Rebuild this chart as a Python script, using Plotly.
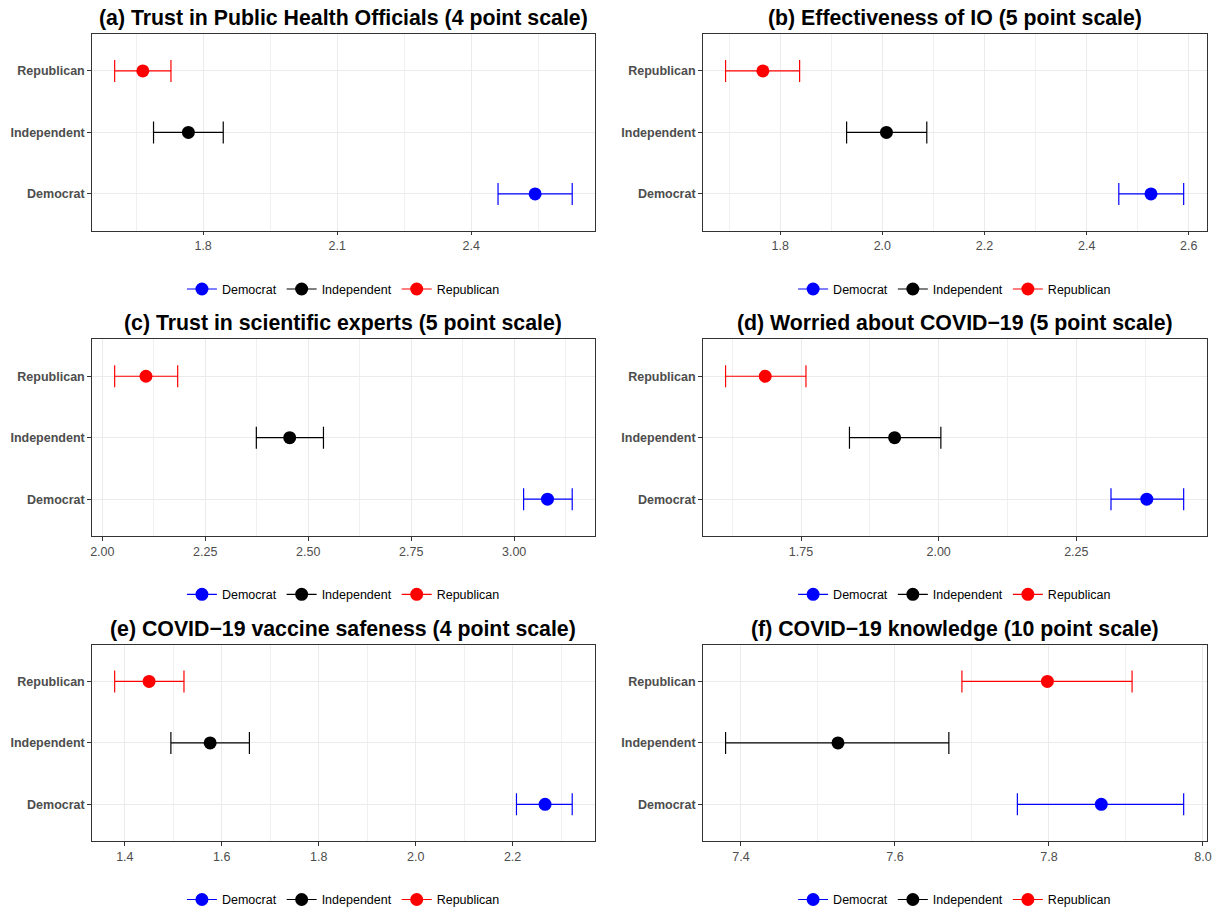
import plotly.graph_objects as go

parties = ["Democrat", "Independent", "Republican"]
party_colors = ["#0000FF", "#000000", "#FF0000"]

titles = [
    "(a) Trust in Public Health Officials (4 point scale)",
    "(b) Effectiveness of IO (5 point scale)",
    "(c) Trust in scientific experts (5 point scale)",
    "(d) Worried about COVID\u221219 (5 point scale)",
    "(e) COVID\u221219 vaccine safeness (4 point scale)",
    "(f) COVID\u221219 knowledge (10 point scale)",
]

# values per panel: [Democrat, Independent, Republican]
mean_a = [2.543, 1.767, 1.665]
low_a = [2.460, 1.689, 1.602]
high_a = [2.626, 1.845, 1.728]

mean_b = [2.526, 2.008, 1.766]
low_b = [2.463, 1.930, 1.693]
high_b = [2.590, 2.087, 1.838]

mean_c = [3.081, 2.455, 2.106]
low_c = [3.023, 2.374, 2.030]
high_c = [3.141, 2.537, 2.183]

mean_d = [2.378, 1.920, 1.685]
low_d = [2.313, 1.838, 1.613]
high_d = [2.445, 2.004, 1.759]

mean_e = [2.267, 1.576, 1.450]
low_e = [2.208, 1.495, 1.379]
high_e = [2.323, 1.657, 1.522]

mean_f = [7.868, 7.526, 7.798]
low_f = [7.759, 7.380, 7.687]
high_f = [7.975, 7.670, 7.908]

# tick settings per panel (tick0, major step, label format)
tick_a = (1.8, 0.3, ".1f")
tick_b = (1.8, 0.2, ".1f")
tick_c = (2.0, 0.25, ".2f")
tick_d = (1.75, 0.25, ".2f")
tick_e = (1.4, 0.2, ".1f")
tick_f = (7.4, 0.2, ".1f")

panels = [
    (mean_a, low_a, high_a, tick_a),
    (mean_b, low_b, high_b, tick_b),
    (mean_c, low_c, high_c, tick_c),
    (mean_d, low_d, high_d, tick_d),
    (mean_e, low_e, high_e, tick_e),
    (mean_f, low_f, high_f, tick_f),
]

W, H = 1224, 915
col_x = [(90.3, 596.5), (704.7, 1211.5)]
row_y = [(34.3, 232.3), (341.6, 539.6), (648.8, 846.8)]


def px_x(v):
    return v / W


def px_y(v):
    return 1 - v / H


FONT = "Liberation Sans, Arial, Helvetica, sans-serif"

fig = go.Figure()
layout = dict(
    width=W, height=H,
    margin=dict(l=0, r=0, t=0, b=0),
    paper_bgcolor="white",
    plot_bgcolor="white",
    font=dict(family=FONT, size=12, color="#000000"),
    showlegend=True,
)
annotations = []

for i, (means, lows, highs, tk) in enumerate(panels):
    r, c = divmod(i, 2)
    x0, x1 = col_x[c]
    y0, y1 = row_y[r]
    n = "" if i == 0 else str(i + 1)
    xa = "x" + n
    ya = "y" + n
    leg = "legend" + n

    lo_all = min(lows)
    hi_all = max(highs)
    pad = (hi_all - lo_all) * 0.05
    xrange = [lo_all - pad, hi_all + pad]

    for j, p in enumerate(parties):
        fig.add_trace(go.Scatter(
            x=[means[j]], y=[p],
            mode="lines+markers",
            name=p,
            legend=leg,
            xaxis=xa, yaxis=ya,
            marker=dict(color=party_colors[j], size=13),
            line=dict(color=party_colors[j], width=1.2),
            error_x=dict(
                type="data", symmetric=False,
                array=[highs[j] - means[j]],
                arrayminus=[means[j] - lows[j]],
                color=party_colors[j], thickness=1.2, width=11,
            ),
            hoverinfo="x+y",
        ))

    t0, step, fmt = tk
    layout["xaxis" + n] = dict(
        domain=[px_x(x0), px_x(x1)],
        anchor=ya,
        range=xrange,
        tick0=t0, dtick=step, tickformat=fmt,
        showgrid=True, gridcolor="#EBEBEB", gridwidth=1,
        minor=dict(tick0=t0, dtick=step / 2, showgrid=True,
                   gridcolor="#F0F0F0", gridwidth=0.7, ticks=""),
        zeroline=False,
        showline=True, mirror=True, linecolor="#333333", linewidth=1.1,
        ticks="outside", ticklen=3.5, tickcolor="#333333", tickwidth=1,
        tickfont=dict(family=FONT, size=12.5, color="#4D4D4D"),
        fixedrange=True,
    )
    layout["yaxis" + n] = dict(
        domain=[px_y(y1), px_y(y0)],
        anchor=xa,
        type="category",
        categoryorder="array", categoryarray=parties,
        range=[-0.6, 2.6],
        showgrid=True, gridcolor="#EBEBEB", gridwidth=1,
        zeroline=False,
        showline=True, mirror=True, linecolor="#333333", linewidth=1.1,
        ticks="outside", ticklen=3.5, tickcolor="#333333", tickwidth=1,
        tickfont=dict(family=FONT, size=12.5, color="#4D4D4D", weight="bold"),
        fixedrange=True,
    )
    layout[leg] = dict(
        orientation="h",
        x=px_x((x0 + x1) / 2), xanchor="center",
        y=px_y(y1 + 59), yanchor="middle",
        font=dict(family=FONT, size=12.5, color="#000000"),
        bgcolor="rgba(0,0,0,0)",
        itemwidth=30,
        tracegroupgap=0,
    )
    annotations.append(dict(
        text="<b>" + titles[i] + "</b>",
        x=px_x((x0 + x1) / 2), xref="paper", xanchor="center",
        y=px_y(y0 - 16), yref="paper", yanchor="middle",
        showarrow=False,
        font=dict(family=FONT, size=21.3, color="#000000"),
    ))

layout["annotations"] = annotations
fig.update_layout(**layout)
fig.write_html(
    "out.html",
    config={"displayModeBar": False},
    post_script="document.body.style.margin='0';document.body.style.overflow='hidden';",
)
